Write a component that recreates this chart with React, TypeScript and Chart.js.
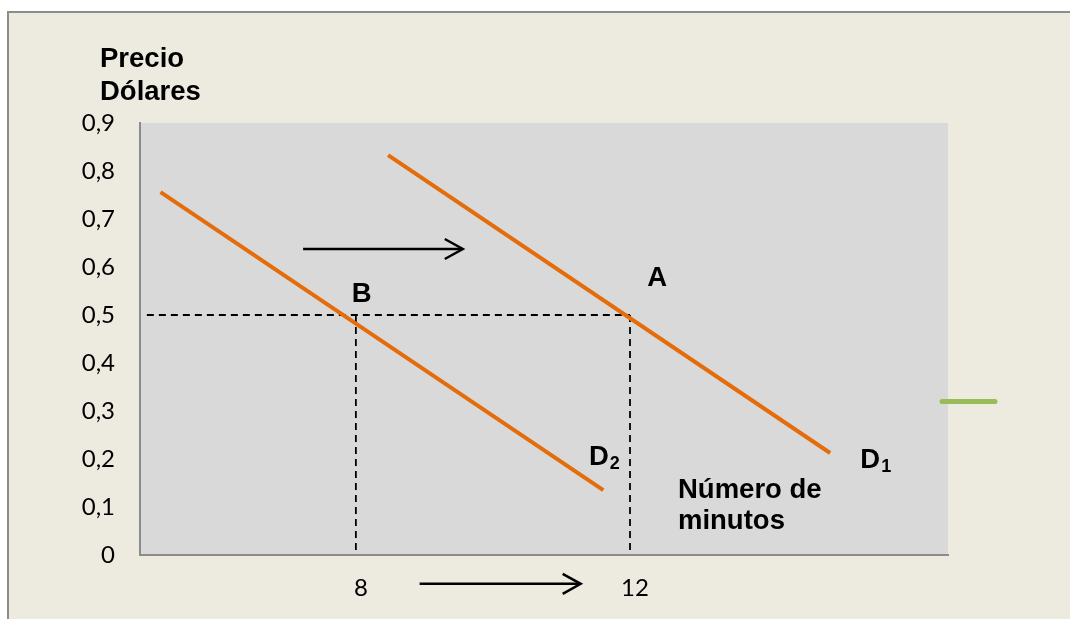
import React, { useEffect, useRef } from "react";
import { Chart, registerables } from "chart.js";

Chart.register(...registerables);

// ---- data ----
const X_MIN = 4.85;
const X_MAX = 16.64;
const Y_MIN = 0;
const Y_MAX = 0.9;
const Y_STEP = 0.1;
const xTickValues = [8, 12];

const d1X = [8.47, 14.92];
const d1Y = [0.833, 0.2125];
const d2X = [5.15, 11.61];
const d2Y = [0.756, 0.135];

const equilibriumPrice = 0.5;
const quantityB = 8;
const quantityA = 12;
const guideStartX = 4.95;

const shiftArrowFrom = [7.23, 8.93];
const shiftArrowTo = [9.56, 11.28];
const shiftArrowY = [0.6375, -0.06];

const pointLabelText = ["A", "B"];
const pointLabelX = [12.25, 7.94];
const pointLabelY = [0.56, 0.527];

const curveLabelMain = ["D", "D"];
const curveLabelSub = ["2", "1"];
const curveLabelX = [11.4, 15.36];
const curveLabelY = [0.1875, 0.181];

const xTitleLines = ["Número de", "minutos"];
const xTitleX = 12.7;
const xTitleY = 0.119;
const yTitleLines = ["Precio", "Dólares"];

const ORANGE = "#E46C0A";
const BOLD_FONT = "bold 27.5px 'Liberation Sans', Arial, sans-serif";
const SUB_FONT = "bold 18px 'Liberation Sans', Arial, sans-serif";

const annotationPlugin = {
  id: "annotations",
  beforeDraw(chart: any) {
    const { ctx, chartArea } = chart;
    ctx.save();
    ctx.fillStyle = "#D9D9D9";
    ctx.fillRect(chartArea.left, chartArea.top, chartArea.right - chartArea.left, chartArea.bottom - chartArea.top);
    ctx.restore();
  },
  afterDraw(chart: any) {
    const { ctx, chartArea } = chart;
    const xs = chart.scales.x;
    const ys = chart.scales.y;
    ctx.save();
    // arrows
    ctx.strokeStyle = "#000";
    ctx.lineWidth = 2.5;
    for (let i = 0; i < shiftArrowFrom.length; i++) {
      const x0 = xs.getPixelForValue(shiftArrowFrom[i]);
      const x1 = xs.getPixelForValue(shiftArrowTo[i]);
      const y = ys.getPixelForValue(shiftArrowY[i]);
      ctx.beginPath();
      ctx.moveTo(x0, y);
      ctx.lineTo(x1, y);
      ctx.stroke();
      ctx.beginPath();
      ctx.moveTo(x1 - 18, y - 10);
      ctx.lineTo(x1, y);
      ctx.lineTo(x1 - 18, y + 10);
      ctx.stroke();
    }
    // labels
    ctx.fillStyle = "#000";
    ctx.textBaseline = "alphabetic";
    ctx.textAlign = "left";
    ctx.font = BOLD_FONT;
    for (let i = 0; i < pointLabelText.length; i++) {
      ctx.fillText(pointLabelText[i], xs.getPixelForValue(pointLabelX[i]), ys.getPixelForValue(pointLabelY[i]));
    }
    for (let i = 0; i < curveLabelMain.length; i++) {
      const px = xs.getPixelForValue(curveLabelX[i]);
      const py = ys.getPixelForValue(curveLabelY[i]);
      ctx.font = BOLD_FONT;
      ctx.fillText(curveLabelMain[i], px, py);
      const w = ctx.measureText(curveLabelMain[i]).width;
      ctx.font = SUB_FONT;
      ctx.fillText(curveLabelSub[i], px + w + 1, py + 4);
    }
    ctx.font = BOLD_FONT;
    const tx = xs.getPixelForValue(xTitleX);
    const ty = ys.getPixelForValue(xTitleY);
    xTitleLines.forEach((l, i) => ctx.fillText(l, tx, ty + i * 31));
    yTitleLines.forEach((l, i) => ctx.fillText(l, chartArea.left - 40, chartArea.top - 56 + i * 33));
    // legend marker
    ctx.strokeStyle = "#9BBB59";
    ctx.lineWidth = 5;
    ctx.lineCap = "round";
    ctx.beginPath();
    ctx.moveTo(chartArea.right - 6, ys.getPixelForValue(0.32));
    ctx.lineTo(chartArea.right + 47, ys.getPixelForValue(0.32));
    ctx.stroke();
    ctx.restore();
  },
};

const toPoints = (xsArr: number[], ysArr: number[]) => xsArr.map((x, i) => ({ x, y: ysArr[i] }));

export default function App() {
  const ref = useRef<HTMLCanvasElement | null>(null);
  useEffect(() => {
    if (!ref.current) return;
    const dashed = {
      borderColor: "#000",
      borderWidth: 1.8,
      borderDash: [7, 5],
      pointRadius: 0,
      fill: false,
    };
    const chart = new Chart(ref.current, {
      type: "line",
      data: {
        datasets: [
          { label: "D1", data: toPoints(d1X, d1Y), borderColor: ORANGE, borderWidth: 4, pointRadius: 0 },
          { label: "D2", data: toPoints(d2X, d2Y), borderColor: ORANGE, borderWidth: 4, pointRadius: 0 },
          { label: "p", data: [{ x: guideStartX, y: equilibriumPrice }, { x: quantityA, y: equilibriumPrice }], ...dashed },
          { label: "qB", data: [{ x: quantityB, y: equilibriumPrice }, { x: quantityB, y: Y_MIN }], ...dashed },
          { label: "qA", data: [{ x: quantityA, y: equilibriumPrice }, { x: quantityA, y: Y_MIN }], ...dashed },
        ] as any,
      },
      options: {
        animation: false,
        responsive: false,
        parsing: false as any,
        layout: { padding: { top: 123, right: 122, bottom: 0, left: 0 } },
        plugins: { legend: { display: false }, tooltip: { enabled: false } },
        scales: {
          x: {
            type: "linear",
            min: X_MIN,
            max: X_MAX,
            afterBuildTicks: (s: any) => {
              s.ticks = xTickValues.map((v) => ({ value: v }));
            },
            afterFit: (s: any) => {
              s.height = 64;
            },
            grid: { display: false, drawTicks: false },
            border: { display: true, color: "#8C8C8C", width: 2 },
            ticks: {
              color: "#000",
              font: { family: "Lato", size: 24 },
              padding: 19,
              labelOffset: 5,
              maxRotation: 0,
              callback: (v: any) => String(v),
            },
          },
          y: {
            type: "linear",
            min: Y_MIN,
            max: Y_MAX,
            afterFit: (s: any) => {
              s.width = 140;
            },
            grid: { display: false, drawTicks: false },
            border: { display: true, color: "#8C8C8C", width: 2 },
            ticks: {
              stepSize: Y_STEP,
              color: "#000",
              font: { family: "Lato", size: 24 },
              padding: 25,
              callback: (v: any) => (Math.abs(v) < 1e-9 ? "0" : Number(v).toFixed(1).replace(".", ",")),
            },
          },
        },
      } as any,
      plugins: [annotationPlugin],
    });
    return () => chart.destroy();
  }, []);
  return (
    <div style={{ position: "absolute", left: 0, top: 0, width: 1070, height: 619, background: "#fff", overflow: "hidden" }}>
      <div
        style={{
          position: "absolute",
          left: 7,
          top: 11,
          width: 1070,
          height: 619,
          background: "#EDEAE0",
          borderLeft: "2px solid #8C8C8C",
          borderTop: "2px solid #8C8C8C",
        }}
      />
      <canvas ref={ref} width={1070} height={619} style={{ position: "absolute", left: 0, top: 0, width: 1070, height: 619 }} />
    </div>
  );
}
